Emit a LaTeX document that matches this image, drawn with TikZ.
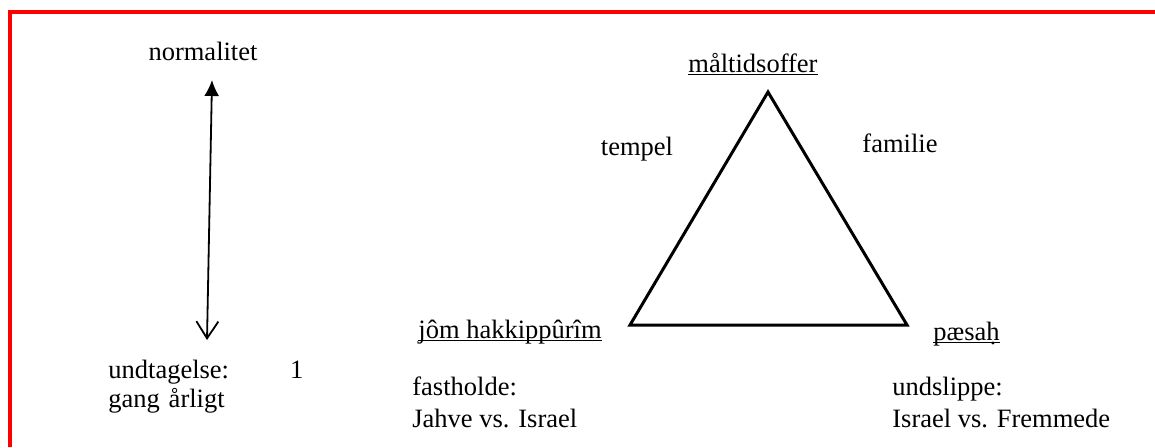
\documentclass[tikz,border=0pt]{standalone}
\usepackage{fontspec}
\setmainfont{Liberation Serif}
\usetikzlibrary{arrows.meta}
\newcommand{\ulsm}[1]{\underline{\smash{#1}}}
\begin{document}
\begin{tikzpicture}[x=0.5pt, y=-0.5pt,
    every node/.style={inner sep=0pt, font=\fontsize{13.25}{16}\selectfont}]
    \useasboundingbox (0,0) rectangle (1155,447);

    % Ramme
    \draw[red, line width=1.6pt] (10,447) -- (10,12) -- (1155,12);

    % Akse
    \node[anchor=base] (normalitet) at (203,60) {normalitet};
    \node[anchor=base west, align=left, text width=97.5pt,
          font=\fontsize{13.25}{14.5}\selectfont] (undtagelse) at (108,378) {undtagelse:\hfill 1\\gang årligt};
    \coordinate (pilTop) at (212,80);
    \coordinate (pilBund) at (207,340);
    \draw[{Latex[length=8pt,width=7.5pt]}-{Straight Barb[length=8.5pt,width=11pt]}, line width=0.9pt] (pilTop) -- (pilBund);

    % Trekant
    \coordinate (apex) at (768,92);
    \coordinate (venstre) at (630,325);
    \coordinate (hojre) at (907,325);
    \draw[line width=1.5pt] (venstre) -- (apex) -- (hojre) -- cycle;

    % Hjoerner og sider
    \node[anchor=base] (maaltid) at (753,72) {\ulsm{måltidsoffer}};
    \node[anchor=base] (tempel) at (637,155) {tempel};
    \node[anchor=base] (familie) at (900,152) {familie};
    \node[anchor=base west] (jom) at (418,338) {\ulsm{jôm hakkippûrîm}};
    \node[anchor=base west] (paesah) at (933,340) {\ulsm{pæsa\d{h}}};

    % Forklaringer
    \node[anchor=base west, align=left] (fastholde) at (412,427) {fastholde:\\Jahve vs. Israel};
    \node[anchor=base west, align=left] (undslippe) at (892,427) {undslippe:\\Israel vs. Fremmede};
\end{tikzpicture}
\end{document}
